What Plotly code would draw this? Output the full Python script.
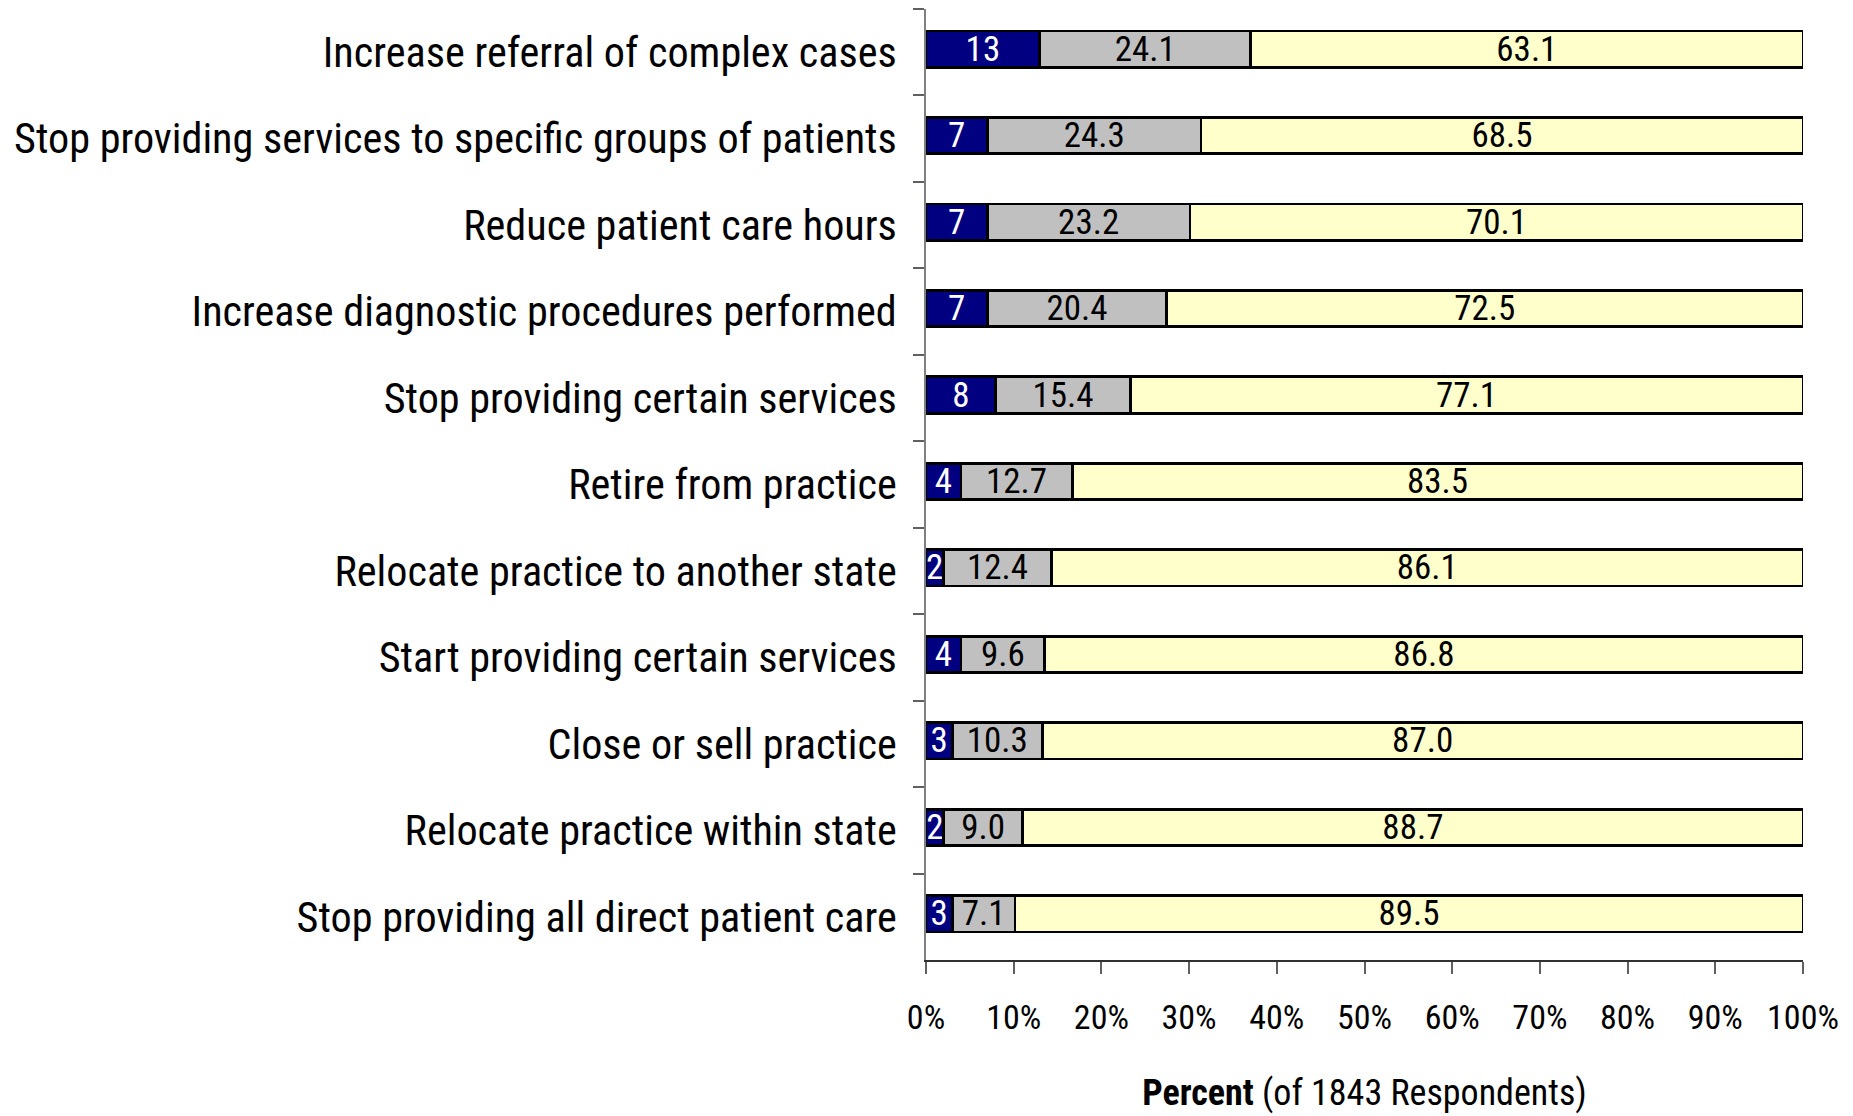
import plotly.graph_objects as go

# Survey responses: share of respondents likely / possibly / unlikely to take each action
categories = [
    "Increase referral of complex cases",
    "Stop providing services to specific groups of patients",
    "Reduce patient care hours",
    "Increase diagnostic procedures performed",
    "Stop providing certain services",
    "Retire from practice",
    "Relocate practice to another state",
    "Start providing certain services",
    "Close or sell practice",
    "Relocate practice within state",
    "Stop providing all direct patient care",
]
likely = [13, 7, 7, 7, 8, 4, 2, 4, 3, 2, 3]
possibly = [24.1, 24.3, 23.2, 20.4, 15.4, 12.7, 12.4, 9.6, 10.3, 9.0, 7.1]
unlikely = [63.1, 68.5, 70.1, 72.5, 77.1, 83.5, 86.1, 86.8, 87.0, 88.7, 89.5]

x_ticks = [0, 10, 20, 30, 40, 50, 60, 70, 80, 90, 100]

FONT = "Roboto Condensed, Liberation Sans Narrow, DejaVu Sans Condensed, Liberation Sans, sans-serif"
LABEL_SIZE = 35
BAR_WIDTH = 0.42

series = [
    ("Likely", likely, "#000080", "white", lambda v: f"{v:g}"),
    ("Possibly", possibly, "#C0C0C0", "black", lambda v: f"{v:.1f}"),
    ("Unlikely", unlikely, "#FFFFCC", "black", lambda v: f"{v:.1f}"),
]

fig = go.Figure()
for name, vals, color, txtcolor, fmt in series:
    fig.add_trace(go.Bar(
        y=categories,
        x=vals,
        name=name,
        orientation="h",
        width=BAR_WIDTH,
        offset=-BAR_WIDTH / 2 - 0.035,
        marker=dict(color=color, line=dict(color="black", width=2.8)),
        text=[fmt(v) for v in vals],
        textposition="inside",
        insidetextanchor="middle",
        textangle=0,
        constraintext="none",
        textfont=dict(family=FONT, size=LABEL_SIZE, color=txtcolor),
        hoverinfo="skip",
    ))

fig.update_layout(
    barmode="stack",
    barnorm="percent",
    showlegend=False,
    width=1853,
    height=1116,
    margin=dict(l=926, r=50, t=9, b=156),
    paper_bgcolor="white",
    plot_bgcolor="white",
    font=dict(family=FONT, color="black"),
    uniformtext=dict(minsize=LABEL_SIZE, mode="show"),
)

fig.update_yaxes(
    type="category",
    categoryorder="array",
    categoryarray=categories,
    autorange="reversed",
    automargin=False,
    showgrid=False,
    showline=True,
    linecolor="#808080",
    linewidth=1.5,
    ticks="outside",
    tickson="boundaries",
    ticklen=11,
    tickcolor="#606060",
    tickwidth=1.5,
    ticklabelstandoff=19,
    tickfont=dict(family=FONT, size=42.2, color="black"),
)

fig.update_xaxes(
    range=[0, 100],
    tickvals=x_ticks,
    ticktext=[f"{t}%" for t in x_ticks],
    tickangle=0,
    automargin=False,
    showgrid=False,
    zeroline=False,
    showline=True,
    linecolor="#303030",
    linewidth=1.5,
    ticks="outside",
    ticklen=12,
    tickcolor="#606060",
    tickwidth=1.5,
    ticklabelstandoff=14,
    tickfont=dict(family=FONT, size=34, color="black"),
    title=dict(
        text="<b>Percent</b> (of 1843 Respondents)",
        font=dict(family=FONT, size=36, color="black"),
        standoff=44,
    ),
)

fig.write_html("out.html")
